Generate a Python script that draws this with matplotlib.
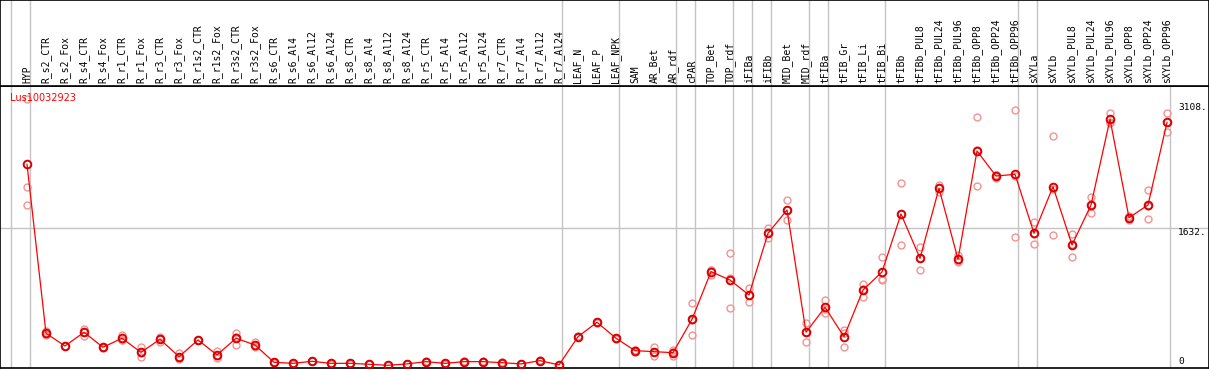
import matplotlib
matplotlib.use("Agg")
import matplotlib.pyplot as plt

gene = "Lus10032923"

samples = ["HYP",
           "R_s2_CTR", "R_s2_Fox", "R_s4_CTR", "R_s4_Fox", "R_r1_CTR", "R_r1_Fox",
           "R_r3_CTR", "R_r3_Fox", "R_r1s2_CTR", "R_r1s2_Fox", "R_r3s2_CTR", "R_r3s2_Fox",
           "R_s6_CTR", "R_s6_Al4", "R_s6_Al12", "R_s6_Al24",
           "R_s8_CTR", "R_s8_Al4", "R_s8_Al12", "R_s8_Al24",
           "R_r5_CTR", "R_r5_Al4", "R_r5_Al12", "R_r5_Al24",
           "R_r7_CTR", "R_r7_Al4", "R_r7_Al12", "R_r7_Al24",
           "LEAF_N", "LEAF_P", "LEAF_NPK", "SAM", "AR_Bet", "AR_rdf", "cPAR",
           "TOP_Bet", "TOP_rdf", "iFIBa", "iFIBb", "MID_Bet", "MID_rdf",
           "tFIBa", "tFIB_Gr", "tFIB_Li", "tFIB_Bi",
           "tFIBb", "tFIBb_PUL8", "tFIBb_PUL24", "tFIBb_PUL96",
           "tFIBb_OPP8", "tFIBb_OPP24", "tFIBb_OPP96",
           "sXYLa", "sXYLb", "sXYLb_PUL8", "sXYLb_PUL24", "sXYLb_PUL96",
           "sXYLb_OPP8", "sXYLb_OPP24", "sXYLb_OPP96"]

mean_expr = [2382, 386, 236, 398, 221, 327, 161, 315, 110, 307, 130, 327, 248,
             43, 31, 55, 31, 31, 20, 8, 24, 51, 31, 51, 51, 39, 24, 63, 12,
             346, 516, 327, 181, 169, 157, 551, 1114, 1015, 838, 1567, 1842, 398,
             693, 346, 897, 1110, 1795, 1271, 2098, 1260, 2539, 2243, 2263,
             1567, 2117, 1429, 1901, 2913, 1751, 1901, 2877]

rep1 = [3150, 410, 240, 437, 225, 366, 221, 339, 150, 310, 181, 393, 288,
        45, 33, 57, 33, 33, 22, 10, 26, 53, 33, 53, 53, 41, 26, 65, 14,
        350, 520, 330, 165, 220, 169, 740, 1134, 1330, 917, 1626, 1960, 504,
        779, 425, 968, 1283, 2157, 1409, 2137, 1311, 2937, 2250, 3023,
        1697, 2716, 1559, 1999, 2991, 1760, 2078, 2991]

rep2 = [2110, 380, 232, 400, 218, 308, 110, 288, 79, 304, 91, 248, 228,
        40, 29, 53, 29, 29, 18, 6, 22, 49, 29, 49, 49, 37, 22, 61, 10,
        342, 512, 324, 185, 118, 118, 366, 1075, 681, 760, 1508, 1724, 287,
        622, 228, 818, 1015, 1429, 1134, 2059, 1232, 2129, 2220, 1520,
        1441, 1547, 1283, 1803, 2866, 1720, 1732, 2759]

rep3 = [1898, 370, 236, 358, 221, 310, 150, 318, 100, 307, 120, 340, 230,
        44, 31, 55, 31, 31, 20, 8, 24, 51, 31, 51, 51, 39, 24, 63, 12,
        346, 516, 327, 193, 169, 184, 547, 1133, 1034, 837, 1567, 1842, 403,
        678, 385, 905, 1032, 1799, 1270, 2098, 1237, 2551, 2259, 2246,
        1563, 2088, 1445, 1901, 2882, 1773, 1893, 2881]

# last sample index of each group (-1 = left edge)
group_ends = [-1, 0, 28, 31, 34, 35, 37, 38, 39, 41, 42, 45, 52, 53, 60]

ref_value = 1632
axis_labels = ["3108.", "1632.", "0"]
axis_values = [3108, 1632, 0]

W, H = 1209, 370
fig = plt.figure(figsize=(W / 100, H / 100), dpi=100)
fig.patch.set_facecolor("white")

plot_bottom = 2 / H
plot_top = (H - 86) / H
ax = fig.add_axes([0, plot_bottom, 1, plot_top - plot_bottom])
hax = fig.add_axes([0, plot_top, 1, 1 - plot_top], sharex=ax)

x = list(range(len(samples)))
ax.set_xlim(-1.421, 62.21)
ax.set_ylim(-24, 3306)

grey = "#c4c4c4"
for g in group_ends:
    ax.axvline(g + 0.18, color=grey, lw=1.0, zorder=1)
    if g < len(samples) - 1:
        hax.axvline(g + 0.18, color=grey, lw=1.0, zorder=1)
ax.axhline(ref_value, color=grey, lw=1.0, zorder=1)

for reps in (rep1, rep2, rep3):
    ax.plot(x, reps, ls="none", marker="o", ms=5, mfc="none",
            mec="#f09494", mew=1.0, zorder=2)

ax.plot(x, mean_expr, color="red", lw=0.9, zorder=3)
ax.plot(x, mean_expr, ls="none", marker="o", ms=5.5, mfc="none",
        mec="#d80000", mew=1.4, zorder=4)

for lab, val in zip(axis_labels, axis_values):
    ax.text(60.58, val, lab, family="DejaVu Sans Mono", fontsize=6.8,
            ha="left", va="bottom" if val == 0 else "top", color="black")

ax.text(10 / W, (368 - 93) / 282, gene, transform=ax.transAxes, color="red",
        fontsize=7, ha="left", va="top")

for i, name in enumerate(samples):
    hax.text(i, 0.03, name, rotation=90, ha="center", va="bottom",
             family="DejaVu Sans Mono", fontsize=7)

for a in (ax, hax):
    a.set_xticks([])
    a.set_yticks([])
    for s in a.spines.values():
        s.set_color("black")
        s.set_linewidth(1.2)
hax.set_ylim(0, 1)

fig.savefig("out.png", dpi=100, facecolor="white")
